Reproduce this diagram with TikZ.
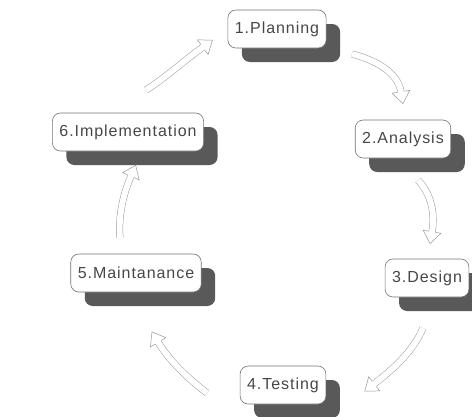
\documentclass[tikz,border=0pt]{standalone}
\usepackage{fontspec}
\setmainfont{Liberation Sans}[LetterSpace=6]
\usetikzlibrary{shadows,decorations.markings}

\begin{document}
\begin{tikzpicture}[x=1pt,y=1pt,
  phase/.style={draw=black!55, line width=0.6pt, fill=white, rounded corners=8pt,
    inner xsep=7pt, minimum height=38pt, text=black!72,
    font=\fontsize{16}{18}\selectfont,
    drop shadow={shadow xshift=14pt, shadow yshift=-14pt, fill=black!65, opacity=1}},
  cyclearrow/.style={draw=black!40, line width=0.5pt, double=white, double distance=6pt,
    postaction={decorate}, decoration={markings, mark=at position 0.996 with {
      \fill[white] (0pt,-9pt) -- (12pt,0pt) -- (0pt,9pt) -- cycle;
      \draw[black!40, solid, line width=0.5pt] (0pt,-3.5pt) -- (0pt,-9pt) -- (12pt,0pt) -- (0pt,9pt) -- (0pt,3.5pt);}}}]

\useasboundingbox (0,0) rectangle (472,-416);

% the six phases
\node[phase] (plan)   at (277,-29)  {1.Planning};
\node[phase] (anal)   at (403,-139) {2.Analysis};
\node[phase] (design) at (427,-278) {3.Design};
\node[phase] (test)   at (283,-385) {4.Testing};
\node[phase] (maint)  at (136,-273) {5.Maintanance};
\node[phase] (impl)   at (128,-132) {6.Implementation};

% ends of the arrows
\coordinate (implout)   at (146,-90);
\coordinate (planin)    at (203,-47);
\coordinate (planout)   at (352,-54);
\coordinate (analin)    at (401,-92);
\coordinate (analout)   at (418,-180);
\coordinate (designin)  at (432,-232);
\coordinate (designout) at (423,-328);
\coordinate (testin)    at (374,-384);
\coordinate (testout)   at (207,-393);
\coordinate (maintin)   at (158,-342);
\coordinate (maintout)  at (120,-238);
\coordinate (implin)    at (131,-176);

% hollow arrows round the cycle
\draw[cyclearrow] (implout) .. controls (165,-78) and (185,-60) .. (planin);
\draw[cyclearrow] (planout) .. controls (375,-60) and (398,-72) .. (analin);
\draw[cyclearrow] (analout) .. controls (432,-195) and (435,-215) .. (designin);
\draw[cyclearrow] (designout) .. controls (413,-352) and (392,-370) .. (testin);
\draw[cyclearrow] (testout) .. controls (190,-380) and (170,-362) .. (maintin);
\draw[cyclearrow] (maintout) .. controls (118,-215) and (124,-192) .. (implin);

\end{tikzpicture}
\end{document}
